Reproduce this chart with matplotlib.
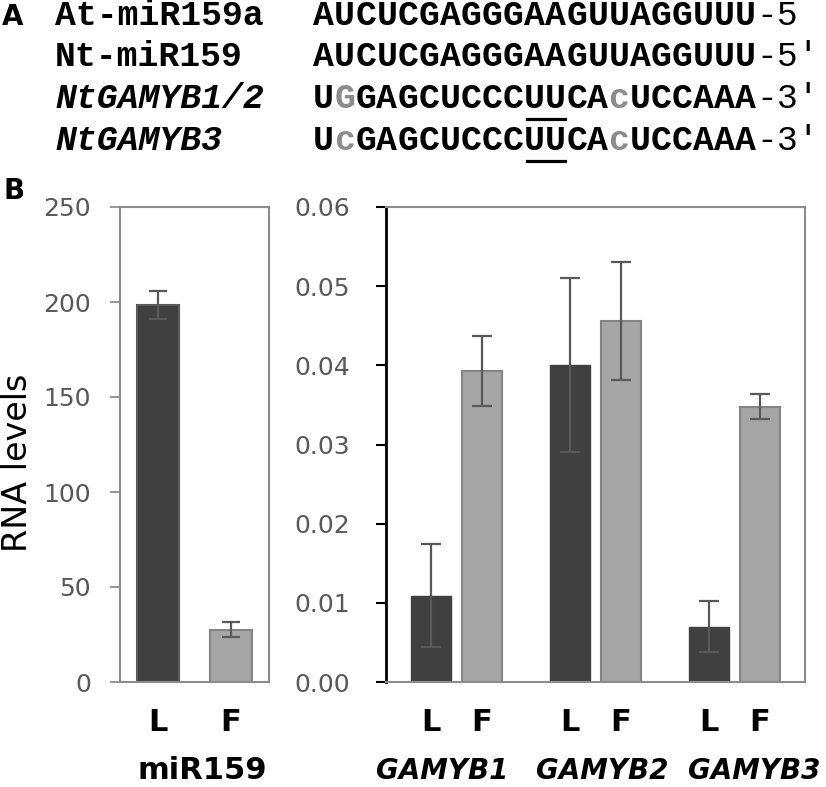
import matplotlib
matplotlib.use("Agg")
import matplotlib.pyplot as plt
import matplotlib.transforms as mtransforms
import numpy as np

# ---- data ----
names = ["At-miR159a", "Nt-miR159", "NtGAMYB1/2", "NtGAMYB3"]
name_italic = [False, False, True, True]
seqs = ["AUCUCGAGGGAAGUUAGGUUU", "AUCUCGAGGGAAGUUAGGUUU",
        "UGGAGCUCCCUUCAcUCCAAA", "UcGAGCUCCCUUCAcUCCAAA"]
seq_ends = ["-5", "-5\u2032", "-3\u2032", "-3\u2032"]
gray_pos = [[], [], [1, 14], [1, 14]]
underline_pos = [None, None, (10, 12), (10, 12)]

mir_cats = ["L", "F"]
mir159 = [198.5, 27.5]
mir159_err = [7.5, 4.0]

genes = ["GAMYB1", "GAMYB2", "GAMYB3"]
leaf = [0.0109, 0.0400, 0.0070]
leaf_err = [0.0065, 0.0110, 0.0032]
flower = [0.0393, 0.0456, 0.0348]
flower_err = [0.0044, 0.0074, 0.0016]
gene_label_shift = [-0.104, 0.047, 0.145]

W, H = 826, 787
dark = "#404040"
light = "#a6a6a6"
light_edge = "#848484"
spine_gray = "#8c8c8c"
tick_gray = "#595959"
err_col = "#595959"

fig = plt.figure(figsize=(W / 100, H / 100), dpi=100)

def px(x, y):
    return x / W, 1 - y / H

# ---- panel A: sequences ----
fig.text(*px(2, 25), "A", fontsize=20, fontweight="bold", family="DejaVu Sans", va="baseline")
baselines = [25, 66, 108, 150]
x_name, x_seq, cw = 55, 313, 21.1
for i in range(4):
    yb = baselines[i]
    fig.text(*px(x_name, yb), names[i], family="Liberation Mono", fontsize=25, fontweight="bold",
             style="italic" if name_italic[i] else "normal", va="baseline")
    for j, ch in enumerate(seqs[i]):
        col = spine_gray if j in gray_pos[i] else "black"
        fig.text(*px(x_seq + j * cw + cw / 2, yb), ch, family="Liberation Mono", fontsize=25,
                 fontweight="bold", color=col, va="baseline", ha="center")
    fig.text(*px(x_seq + len(seqs[i]) * cw, yb), seq_ends[i], family="Liberation Mono",
             fontsize=25, va="baseline")
    if underline_pos[i] is not None:
        a, b = underline_pos[i]
        fig.add_artist(plt.Line2D([px(x_seq + a * cw + 3, 0)[0], px(x_seq + b * cw - 1, 0)[0]],
                                  [px(0, yb + 11)[1]] * 2, color="black", lw=2.3))

# ---- panel B ----
fig.text(*px(4, 199), "B", fontsize=20, fontweight="bold", family="DejaVu Sans", va="baseline")
fig.text(*px(18, 463), "RNA levels", rotation=90, fontsize=24, ha="center", va="center")

ax1 = fig.add_axes([120 / W, 1 - 682 / H, 149 / W, 475 / H])
x1 = np.arange(len(mir_cats))
ax1.bar(x1, mir159, width=0.58, color=[dark, light], edgecolor=["#5a5a5a", light_edge], linewidth=1.5)
ax1.errorbar(x1, mir159, yerr=mir159_err, fmt="none", ecolor=err_col, elinewidth=1.6,
             capsize=6.5, capthick=1.6)
ax1.set_xlim(-0.52, 1.52)
ax1.set_ylim(0, 250)
ax1.set_yticks(np.arange(0, 251, 50))
ax1.set_xticks(x1)
ax1.set_xticklabels(mir_cats, fontsize=22, fontweight="bold")
for s in ax1.spines.values():
    s.set_color(spine_gray)
    s.set_linewidth(1.5)
ax1.tick_params(axis="y", direction="out", length=7, width=1.3, color=spine_gray,
                labelcolor=tick_gray, labelsize=18, pad=14)
ax1.tick_params(axis="x", length=0, pad=19)
ax1.text(0.55, -0.204, "miR159", transform=ax1.transAxes, ha="center", va="baseline",
         fontsize=22, fontweight="bold")

ax2 = fig.add_axes([386 / W, 1 - 682 / H, 419 / W, 475 / H])
g = np.arange(len(genes))
ax2.bar(g - 0.183, leaf, width=0.285, color=dark, edgecolor=dark, linewidth=1.0)
ax2.bar(g + 0.183, flower, width=0.292, color=light, edgecolor=light_edge, linewidth=1.5)
ax2.errorbar(g - 0.183, leaf, yerr=leaf_err, fmt="none", ecolor=err_col, elinewidth=1.6,
             capsize=7, capthick=1.6)
ax2.errorbar(g + 0.183, flower, yerr=flower_err, fmt="none", ecolor=err_col, elinewidth=1.6,
             capsize=7, capthick=1.6)
ax2.set_xlim(-0.507, 2.507)
ax2.set_ylim(0, 0.06)
ax2.set_yticks(np.arange(0, 0.061, 0.01))
ax2.set_yticklabels(["%.2f" % v for v in np.arange(0, 0.061, 0.01)])
ticks2 = np.sort(np.concatenate([g - 0.183, g + 0.183]))
ax2.set_xticks(ticks2)
ax2.set_xticklabels(["L", "F"] * len(genes), fontsize=22, fontweight="bold")
for k in ["top", "right", "bottom"]:
    ax2.spines[k].set_color(spine_gray)
    ax2.spines[k].set_linewidth(1.5)
ax2.spines["left"].set_color("black")
ax2.spines["left"].set_linewidth(2)
ax2.tick_params(axis="y", direction="out", length=7, width=1.5, color="black",
                labelcolor=tick_gray, labelsize=18, pad=19)
ax2.tick_params(axis="x", length=0, pad=19)
trans = mtransforms.blended_transform_factory(ax2.transData, ax2.transAxes)
for i, gene in enumerate(genes):
    ax2.text(g[i] + gene_label_shift[i], -0.204, gene, transform=trans, ha="center",
             va="baseline", fontsize=20, fontweight="bold", style="italic")

fig.savefig("out.png", dpi=100)
